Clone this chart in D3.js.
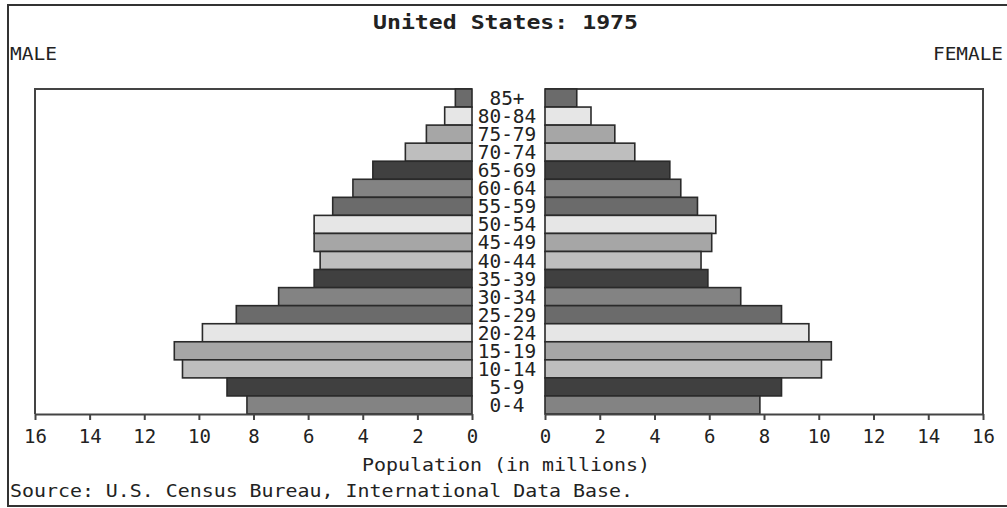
<!DOCTYPE html>
<html>
<head>
<meta charset="utf-8">
<script src="https://cdn.jsdelivr.net/npm/d3@7"></script>
<style>
  body { margin: 0; background: white; }
  text { font-family: "DejaVu Sans Mono", monospace; fill: #222; }
</style>
</head>
<body>
<div id="chart"></div>
<script>
// age groups, top of the pyramid first
var ageGroups = ["85+", "80-84", "75-79", "70-74", "65-69", "60-64", "55-59",
                 "50-54", "45-49", "40-44", "35-39", "30-34", "25-29", "20-24",
                 "15-19", "10-14", "5-9", "0-4"];

// population in millions, same order as ageGroups
var maleValues   = [0.61, 1.0, 1.67, 2.44, 3.63, 4.36, 5.1, 5.78, 5.78, 5.56,
                    5.78, 7.08, 8.63, 9.87, 10.9, 10.6, 8.97, 8.24];
var femaleValues = [1.16, 1.68, 2.55, 3.28, 4.56, 4.96, 5.57, 6.24, 6.09, 5.7,
                    5.95, 7.15, 8.64, 9.64, 10.46, 10.1, 8.64, 7.85];

// tick values for both axes
var tickValues = [0, 2, 4, 6, 8, 10, 12, 14, 16];

// fill colours repeat every six rows counted from the bottom
var rowColors = ["#838383", "#404040", "#bebebe", "#a6a6a6", "#e6e6e6", "#6b6b6b"];

var width  = 1007;
var height = 508;

var plotTop    = 89;
var plotBottom = 414;

// male side runs right to left, female side left to right
var maleScale = d3.scaleLinear()
                  .domain([0, 16])
                  .range([472, 35]);

var femaleScale = d3.scaleLinear()
                    .domain([0, 16])
                    .range([545, 983]);

var yScale = d3.scaleBand()
               .domain(ageGroups)
               .range([plotTop, plotBottom])
               .padding(0);

function rowColor(i) {
  return rowColors[(ageGroups.length - 1 - i) % rowColors.length];
}

var svg = d3.select("#chart")
            .append("svg")
            .attr("width", width)
            .attr("height", height);

// outer frame
svg.append("rect")
   .attr("x", 8)
   .attr("y", 5)
   .attr("width", 1010)
   .attr("height", 501)
   .style("fill", "white")
   .style("stroke", "#333")
   .style("stroke-width", 2);

// title
svg.append("text")
   .text("United States: 1975")
   .attr("x", 373)
   .attr("y", 29)
   .attr("textLength", 265)
   .attr("lengthAdjust", "spacingAndGlyphs")
   .style("font-size", "20px")
   .style("font-weight", "bold");

svg.append("text")
   .text("MALE")
   .attr("x", 10)
   .attr("y", 60)
   .attr("textLength", 47)
   .attr("lengthAdjust", "spacingAndGlyphs")
   .style("font-size", "18px");

svg.append("text")
   .text("FEMALE")
   .attr("x", 933)
   .attr("y", 60)
   .attr("textLength", 70)
   .attr("lengthAdjust", "spacingAndGlyphs")
   .style("font-size", "18px");

// plot boxes, top and outer edges only (axis makes the bottom)
function plotBox(scale) {
  var x0 = scale(0), x1 = scale(16);
  svg.append("path")
     .attr("d", "M" + x0 + "," + plotTop + "H" + x1 + "V" + plotBottom)
     .style("fill", "none")
     .style("stroke", "#444")
     .style("stroke-width", 2);
}
plotBox(maleScale);
plotBox(femaleScale);

// male bars
svg.append("g")
   .selectAll("rect")
   .data(maleValues)
   .enter()
     .append("rect")
     .attr("x", function(d) { return maleScale(d); })
     .attr("y", function(d, i) { return yScale(ageGroups[i]); })
     .attr("width", function(d) { return maleScale(0) - maleScale(d); })
     .attr("height", yScale.bandwidth())
     .style("fill", function(d, i) { return rowColor(i); })
     .style("stroke", "#2a2a2a")
     .style("stroke-width", 1.6);

// female bars
svg.append("g")
   .selectAll("rect")
   .data(femaleValues)
   .enter()
     .append("rect")
     .attr("x", femaleScale(0))
     .attr("y", function(d, i) { return yScale(ageGroups[i]); })
     .attr("width", function(d) { return femaleScale(d) - femaleScale(0); })
     .attr("height", yScale.bandwidth())
     .style("fill", function(d, i) { return rowColor(i); })
     .style("stroke", "#2a2a2a")
     .style("stroke-width", 1.6);

// age labels in the middle column (they touch each other in the original)
svg.append("g")
   .selectAll("text")
   .data(ageGroups)
   .enter()
     .append("text")
     .text(function(d) { return d; })
     .attr("x", 507)
     .attr("y", function(d) { return yScale(d) + 16; })
     .attr("text-anchor", "middle")
     .attr("textLength", function(d) { return d.length * 11.7; })
     .attr("lengthAdjust", "spacingAndGlyphs")
     .style("font-size", "19px");

// axes
function drawAxis(scale) {
  var axis = d3.axisBottom(scale)
               .tickValues(tickValues)
               .tickSize(6)
               .tickSizeOuter(0)
               .tickPadding(10);
  var g = svg.append("g")
             .attr("transform", "translate(0," + plotBottom + ")")
             .call(axis);
  g.select(".domain").style("stroke", "#444").style("stroke-width", 2);
  g.selectAll(".tick line").style("stroke", "#444").style("stroke-width", 2);
  g.selectAll(".tick text")
   .style("font-family", "DejaVu Sans Mono, monospace")
   .style("font-size", "19px")
   .style("fill", "#222");
}
drawAxis(maleScale);
drawAxis(femaleScale);

svg.append("text")
   .text("Population (in millions)")
   .attr("x", 362)
   .attr("y", 471)
   .attr("textLength", 288)
   .attr("lengthAdjust", "spacingAndGlyphs")
   .style("font-size", "18px");

svg.append("text")
   .text("Source: U.S. Census Bureau, International Data Base.")
   .attr("x", 10)
   .attr("y", 497)
   .attr("textLength", 623)
   .attr("lengthAdjust", "spacingAndGlyphs")
   .style("font-size", "18px");
</script>
</body>
</html>
